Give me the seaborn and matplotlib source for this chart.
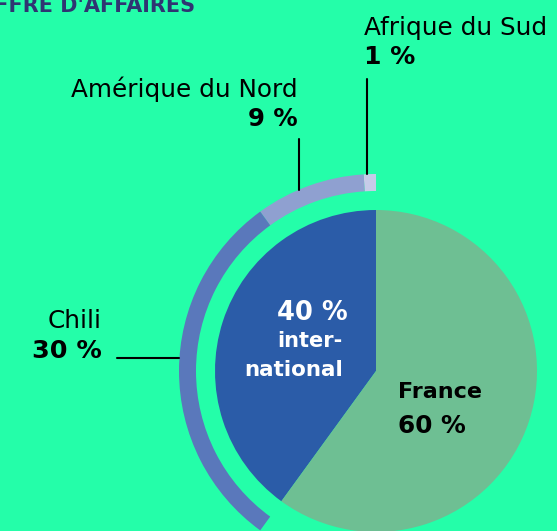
import numpy as np
import matplotlib
matplotlib.use("Agg")
import matplotlib.pyplot as plt
import seaborn as sns

# ------------------------------------------------------------------
# DATA
# ------------------------------------------------------------------
pie_labels = ["international", "France"]
pie_values = [40, 60]

ring_labels = ["Afrique du Sud", "Amérique du Nord", "Chili"]
ring_values = [1, 9, 30]

title_text = "CHIFFRE D'AFFAIRES"

# ------------------------------------------------------------------
# STYLE
# ------------------------------------------------------------------
BG = "#24fea9"
PIE_COLORS = ["#2b5ca8", "#6ebf93"]
RING_COLORS = ["#c6cbe8", "#8fa0d0", "#5a78bb"]
TITLE_COLOR = "#2f3572"

sns.set_theme(style="white")
plt.rcParams["font.family"] = ["DejaVu Sans"]

W, H = 557, 531
fig = plt.figure(figsize=(W / 100, H / 100), dpi=100)
fig.patch.set_facecolor(BG)
ax = fig.add_axes([0, 0, 1, 1])
ax.set_facecolor(BG)

cx, cy = 376, H - 371        # pie centre in pixel-like data units
r_pie = 161
r_out, ring_w = 197, 17

# inner pie
ax.pie(pie_values, colors=PIE_COLORS, startangle=90, counterclock=True,
       center=(cx, cy), radius=r_pie, wedgeprops=dict(linewidth=0))

# outer ring: the remaining share is invisible
ring_vals = ring_values + [100 - sum(ring_values)]
ring_cols = RING_COLORS + ["none"]
ax.pie(ring_vals, colors=ring_cols, startangle=90, counterclock=True,
       center=(cx, cy), radius=r_out,
       wedgeprops=dict(width=ring_w, linewidth=0))

ax.set_xlim(0, W)
ax.set_ylim(0, H)
ax.set_aspect("equal")
ax.axis("off")


def py(y):
    return H - y


def ring_top(x):
    return cy + np.sqrt(r_out ** 2 - (x - cx) ** 2)


# title (cut at the top / left edge like the reference)
ax.text(195, py(12), title_text, ha="right", va="baseline", fontsize=15,
        fontweight="bold", color=TITLE_COLOR)

# Afrique du Sud
ax.text(364, py(35), ring_labels[0], ha="left", va="baseline", fontsize=17.8, color="black")
ax.text(364, py(64), f"{ring_values[0]} %", ha="left", va="baseline", fontsize=18,
        fontweight="bold", color="black")
ax.plot([367, 367], [py(79), ring_top(367)], color="black", lw=1.5)

# Amérique du Nord
ax.text(298, py(97), ring_labels[1], ha="right", va="baseline", fontsize=17.8, color="black")
ax.text(298, py(126), f"{ring_values[1]} %", ha="right", va="baseline", fontsize=17.5,
        fontweight="bold", color="black")
ax.plot([299, 299], [py(139), ring_top(299)], color="black", lw=1.5)

# Chili
ax.text(102, py(328), ring_labels[2], ha="right", va="baseline", fontsize=17.8, color="black")
ax.text(102, py(358), f"{ring_values[2]} %", ha="right", va="baseline", fontsize=18.3,
        fontweight="bold", color="black")
x_ring = cx - np.sqrt(r_out ** 2 - (py(358) - cy) ** 2)
ax.plot([117, x_ring], [py(358), py(358)], color="black", lw=1.5)

# inside labels
ax.text(312, py(320), f"{pie_values[0]} %", ha="center", va="baseline", fontsize=18.5,
        fontweight="bold", color="white")
ax.text(310, py(347), "inter-", ha="center", va="baseline", fontsize=15,
        fontweight="bold", color="white")
ax.text(294, py(376), "national", ha="center", va="baseline", fontsize=15.5,
        fontweight="bold", color="white")

ax.text(398, py(398), pie_labels[1], ha="left", va="baseline", fontsize=16,
        fontweight="bold", color="black")
ax.text(398, py(433), f"{pie_values[1]} %", ha="left", va="baseline", fontsize=17.8,
        fontweight="bold", color="black")

fig.savefig("out.png", dpi=100, facecolor=BG)
